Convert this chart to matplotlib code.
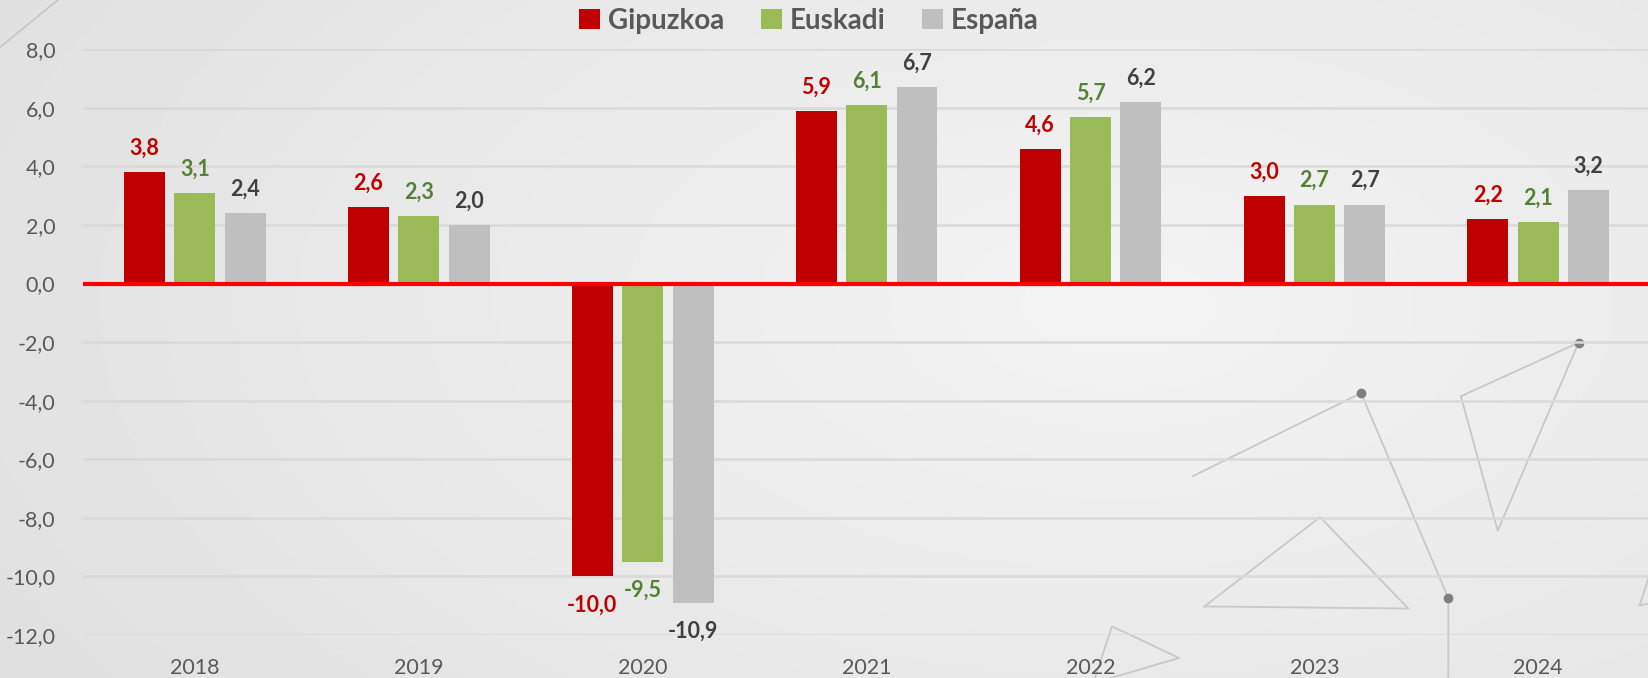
import numpy as np
import matplotlib
matplotlib.use("Agg")
import matplotlib.pyplot as plt

years = ["2018", "2019", "2020", "2021", "2022", "2023", "2024"]
series = ["Gipuzkoa", "Euskadi", "España"]
gipuzkoa = [3.8, 2.6, -10.0, 5.9, 4.6, 3.0, 2.2]
euskadi = [3.1, 2.3, -9.5, 6.1, 5.7, 2.7, 2.1]
espana = [2.4, 2.0, -10.9, 6.7, 6.2, 2.7, 3.2]
y_ticks = [8, 6, 4, 2, 0, -2, -4, -6, -8, -10, -12]

bar_colors = ["#C00000", "#9BBB59", "#BFBFBF"]
label_colors = ["#C00000", "#548235", "#404040"]
text_gray = "#595959"

plt.rcParams["font.family"] = ["Lato", "DejaVu Sans"]

W, H = 1648, 678
fig = plt.figure(figsize=(W / 100, H / 100), dpi=100)

# gradient background
bg = fig.add_axes([0, 0, 1, 1], zorder=-10)
yy, xx = np.mgrid[0:1:200j, 0:1:400j]
d = np.sqrt(((xx - 0.68) * 1.3) ** 2 + (yy - 0.45) ** 2)
img = 0.955 - 0.075 * np.clip(d, 0, 1.2)
bg.imshow(img, cmap="gray", vmin=0, vmax=1, extent=[0, W, H, 0], aspect="auto")

# decorative lines (pixel coords of the figure, y downward)
s = 1648 / 1568
deco = [
    [(1135, 453), (1295, 374), (1378, 569), (1378, 650)],
    [(1146, 577), (1256, 492), (1340, 579), (1146, 577)],
    [(1390, 377), (1502, 326), (1425, 505), (1390, 377)],
    [(1040, 650), (1058, 596), (1122, 626), (1040, 650)],
    [(0, 45), (55, 0)],
    [(1560, 576), (1575, 530)],
    [(1560, 576), (1590, 570)],
]
for pts in deco:
    px = [p[0] * s for p in pts]
    py = [p[1] * s for p in pts]
    bg.plot(px, py, color="#C8C8C8", lw=1.3)
for p in [(1295, 374), (1378, 569), (1502, 326)]:
    bg.plot(p[0] * s, p[1] * s, "o", color="#7F7F7F", ms=6)
bg.set_xlim(0, W)
bg.set_ylim(H, 0)
bg.axis("off")

ax = fig.add_axes([83 / W, 1 - 634.8 / H, 1 - 83 / W, (634.8 - 49.4) / H])
ax.patch.set_alpha(0)

x = np.arange(len(years))
step = 0.225
width = 0.183
values = [gipuzkoa, euskadi, espana]
for i, (name, vals) in enumerate(zip(series, values)):
    pos = x + (i - 1) * step
    ax.bar(pos, vals, width, color=bar_colors[i], label=name, zorder=3)
    for px_, v in zip(pos, vals):
        off = 0.82 if v >= 0 else -0.98
        ax.text(px_, v + off, f"{v:.1f}".replace(".", ","), ha="center", va="center",
                fontsize=15.5, fontweight="bold", color=label_colors[i], zorder=4)

ax.axhline(0, color="#FF0000", lw=3, zorder=5)
ax.set_ylim(-12, 8)
ax.set_xlim(-0.5, 6.49)
ax.set_yticks(y_ticks)
ax.set_yticklabels([f"{t:.1f}".replace(".", ",") for t in y_ticks])
ax.set_xticks(x)
ax.set_xticklabels(years)
ax.tick_params(axis="both", length=0, labelsize=15.5, labelcolor=text_gray)
ax.tick_params(axis="y", pad=20)
ax.tick_params(axis="x", pad=17)
ax.grid(axis="y", color="#D9D9D9", lw=1.8, zorder=0)
for sp in ax.spines.values():
    sp.set_visible(False)

leg = fig.legend(loc="center", bbox_to_anchor=(809 / W, 1 - 21 / H), ncol=3, frameon=False,
                 handlelength=0.75, handleheight=0.75, handletextpad=0.3, columnspacing=1.3,
                 prop={"size": 20, "weight": "bold"})
for t in leg.get_texts():
    t.set_color(text_gray)

fig.savefig("out.png", dpi=100)
